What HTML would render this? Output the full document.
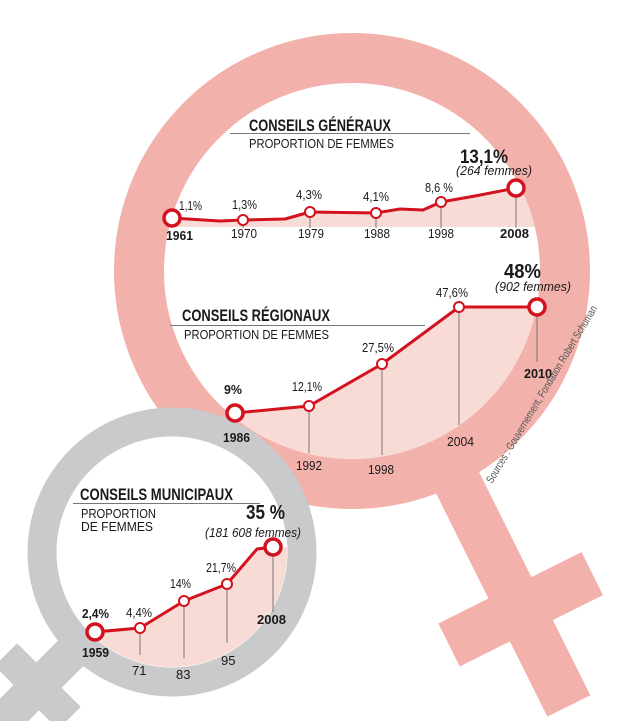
<!DOCTYPE html>
<html><head><meta charset="utf-8"><style>
html,body{margin:0;padding:0;background:#fff;overflow:hidden;width:620px;height:721px;}
svg{display:block;}
text{font-family:"Liberation Sans",sans-serif;fill:#1a1a1a;}
.b{font-weight:bold;}
.i{font-style:italic;}
</style></head><body>
<svg width="620" height="721" viewBox="0 0 620 721" xmlns="http://www.w3.org/2000/svg">
<defs>
<clipPath id="cp"><circle cx="352" cy="271" r="188"/></clipPath>
<clipPath id="cg"><circle cx="172" cy="552" r="115"/></clipPath>
</defs>
<g fill="#f2b1ab">
<circle cx="352" cy="271" r="213" fill="none" stroke="#f2b1ab" stroke-width="50"/>
<g transform="rotate(-26.5 352 271)">
<rect x="328" y="495" width="48" height="262"/>
<rect x="272" y="625" width="160" height="48"/>
</g>
</g>
<g clip-path="url(#cp)">
<polygon fill="#f9dbd6" points="172,218 220,221 243,220 285,219 310,212 376,213 400,209 423,210 441,202 475,196 516,188 545,184 545,227 172,227"/>
<polygon fill="#f9dbd6" points="235,413 309,406 382,364 459,307 537,307 560,307 560,480 200,480 200,413"/>
</g>
<g transform="rotate(45 172 552)" fill="#c9cacb">
<rect x="154" y="680" width="36" height="120"/>
<rect x="127" y="176" width="90" height="32" transform="translate(0 550)"/>
</g>
<circle cx="172" cy="552" r="130" fill="#fff" stroke="#c9cacb" stroke-width="29"/>
<g clip-path="url(#cg)">
<polygon fill="#f9dbd6" points="95,632 140,628 184,601 227,584 257,549 273,547 300,547 300,700 60,700 60,632"/>
</g>
<g stroke="#777" stroke-width="1">
<line x1="243" y1="220" x2="243" y2="228"/><line x1="310" y1="212" x2="310" y2="228"/>
<line x1="376" y1="213" x2="376" y2="228"/><line x1="441" y1="202" x2="441" y2="228"/>
<line x1="516" y1="188" x2="516" y2="228"/>
<line x1="309" y1="406" x2="309" y2="453"/><line x1="382" y1="364" x2="382" y2="455"/>
<line x1="459" y1="307" x2="459" y2="425"/><line x1="537" y1="307" x2="537" y2="362"/>
<line x1="140" y1="628" x2="140" y2="655"/><line x1="184" y1="601" x2="184" y2="658"/>
<line x1="227" y1="584" x2="227" y2="643"/><line x1="273" y1="547" x2="273" y2="612"/>
<line x1="230" y1="133.5" x2="470" y2="133.5"/>
<line x1="170" y1="325.5" x2="425" y2="325.5"/>
<line x1="73" y1="503.5" x2="260" y2="503.5"/>
</g>
<g fill="none" stroke="#d3121f" stroke-width="3" stroke-linejoin="round">
<polyline points="172,218 220,221 243,220 285,219 310,212 376,213 400,209 423,210 441,202 475,196 516,188"/>
<polyline points="235,413 309,406 382,364 459,307 537,307"/>
<polyline points="95,632 140,628 184,601 227,584 257,549 273,547"/>
</g>
<g fill="#fff" stroke="#d3121f">
<g stroke-width="3.5"><circle cx="172" cy="218" r="8"/><circle cx="516" cy="188" r="8"/><circle cx="235" cy="413" r="8"/><circle cx="537" cy="307" r="8"/><circle cx="95" cy="632" r="8"/><circle cx="273" cy="547" r="8"/></g>
<g stroke-width="2"><circle cx="243" cy="220" r="5"/><circle cx="310" cy="212" r="5"/><circle cx="376" cy="213" r="5"/><circle cx="441" cy="202" r="5"/>
<circle cx="309" cy="406" r="5"/><circle cx="382" cy="364" r="5"/><circle cx="459" cy="307" r="5"/>
<circle cx="140" cy="628" r="5"/><circle cx="184" cy="601" r="5"/><circle cx="227" cy="584" r="5"/></g>
</g>
<text x="249" y="131" font-size="17" class="b" textLength="142" lengthAdjust="spacingAndGlyphs">CONSEILS GÉNÉRAUX</text>
<text x="249" y="148" font-size="13" textLength="145" lengthAdjust="spacingAndGlyphs">PROPORTION DE FEMMES</text>
<text x="460" y="163" font-size="19" class="b" textLength="48" lengthAdjust="spacingAndGlyphs">13,1%</text>
<text x="456" y="175" font-size="13" class="i" textLength="76" lengthAdjust="spacingAndGlyphs">(264 femmes)</text>
<g font-size="13">
<text x="179" y="210" textLength="23" lengthAdjust="spacingAndGlyphs">1,1%</text>
<text x="232" y="209" textLength="25" lengthAdjust="spacingAndGlyphs">1,3%</text>
<text x="296" y="199" textLength="26" lengthAdjust="spacingAndGlyphs">4,3%</text>
<text x="363" y="201" textLength="26" lengthAdjust="spacingAndGlyphs">4,1%</text>
<text x="425" y="192" textLength="28" lengthAdjust="spacingAndGlyphs">8,6 %</text>
<text x="166" y="240" class="b" textLength="27" lengthAdjust="spacingAndGlyphs">1961</text>
<text x="231" y="238" textLength="26" lengthAdjust="spacingAndGlyphs">1970</text>
<text x="298" y="238" textLength="26" lengthAdjust="spacingAndGlyphs">1979</text>
<text x="364" y="238" textLength="26" lengthAdjust="spacingAndGlyphs">1988</text>
<text x="428" y="238" textLength="26" lengthAdjust="spacingAndGlyphs">1998</text>
<text x="500" y="238" class="b" textLength="29" lengthAdjust="spacingAndGlyphs">2008</text>
</g>
<text x="182" y="321" font-size="17" class="b" textLength="148" lengthAdjust="spacingAndGlyphs">CONSEILS RÉGIONAUX</text>
<text x="184" y="339" font-size="13" textLength="145" lengthAdjust="spacingAndGlyphs">PROPORTION DE FEMMES</text>
<text x="504" y="278" font-size="20" class="b" textLength="37" lengthAdjust="spacingAndGlyphs">48%</text>
<text x="495" y="291" font-size="13" class="i" textLength="76" lengthAdjust="spacingAndGlyphs">(902 femmes)</text>
<g font-size="13">
<text x="224" y="394" class="b" textLength="18" lengthAdjust="spacingAndGlyphs">9%</text>
<text x="292" y="391" textLength="30" lengthAdjust="spacingAndGlyphs">12,1%</text>
<text x="362" y="352" textLength="32" lengthAdjust="spacingAndGlyphs">27,5%</text>
<text x="436" y="297" textLength="32" lengthAdjust="spacingAndGlyphs">47,6%</text>
<text x="223" y="442" class="b" textLength="27" lengthAdjust="spacingAndGlyphs">1986</text>
<text x="296" y="470" textLength="26" lengthAdjust="spacingAndGlyphs">1992</text>
<text x="368" y="474" textLength="26" lengthAdjust="spacingAndGlyphs">1998</text>
<text x="447" y="446" textLength="27" lengthAdjust="spacingAndGlyphs">2004</text>
<text x="524" y="378" class="b" textLength="28" lengthAdjust="spacingAndGlyphs">2010</text>
</g>
<text transform="translate(492 484) rotate(-59)" font-size="11" style="fill:#555" textLength="205" lengthAdjust="spacingAndGlyphs">Sources : Gouvernement, Fondation Robert Schuman</text>
<text x="80" y="500" font-size="17" class="b" textLength="153" lengthAdjust="spacingAndGlyphs">CONSEILS MUNICIPAUX</text>
<text x="81" y="518" font-size="13" textLength="75" lengthAdjust="spacingAndGlyphs">PROPORTION</text>
<text x="81" y="531" font-size="13" textLength="72" lengthAdjust="spacingAndGlyphs">DE FEMMES</text>
<text x="246" y="519" font-size="20" class="b" textLength="39" lengthAdjust="spacingAndGlyphs">35 %</text>
<text x="205" y="537" font-size="13" class="i" textLength="96" lengthAdjust="spacingAndGlyphs">(181 608 femmes)</text>
<g font-size="13">
<text x="82" y="618" class="b" textLength="27" lengthAdjust="spacingAndGlyphs">2,4%</text>
<text x="126" y="617" textLength="26" lengthAdjust="spacingAndGlyphs">4,4%</text>
<text x="170" y="588" textLength="21" lengthAdjust="spacingAndGlyphs">14%</text>
<text x="206" y="572" textLength="30" lengthAdjust="spacingAndGlyphs">21,7%</text>
<text x="82" y="657" class="b" textLength="27" lengthAdjust="spacingAndGlyphs">1959</text>
<text x="132" y="675">71</text><text x="176" y="679">83</text>
<text x="221" y="665">95</text>
<text x="257" y="624" class="b" textLength="29" lengthAdjust="spacingAndGlyphs">2008</text>
</g>
</svg>
</body></html>
